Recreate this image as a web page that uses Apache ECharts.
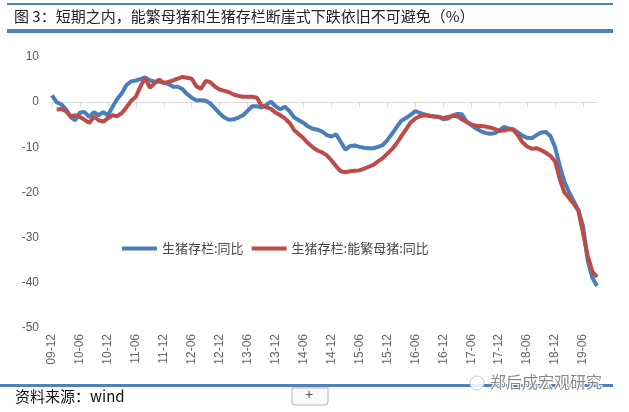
<!DOCTYPE html>
<html>
<head>
<meta charset="utf-8">
<script src="https://cdn.jsdelivr.net/npm/echarts@6/dist/echarts.min.js"></script>
<style>
	html, body { margin: 0; padding: 0; background: #fff; }
	#chart { width: 629px; height: 412px; }
</style>
</head>
<body>
<div id="chart"></div>
<script>
// monthly, 2009-12 .. 2019-09
const startYear = 2009;
const startMonth = 12;
const monthCount = 118;

const hogYoY = [
	1.5, 0.0, -0.5, -1.6, -3.3, -4.0, -2.3, -2.2, -3.3, -2.2,
	-2.9, -2.2, -2.9, -1.0, 0.7, 2.0, 3.8, 4.6, 4.8, 5.1,
	5.5, 4.8, 4.6, 4.5, 4.4, 4.0, 3.4, 3.4, 2.9, 1.8,
	1.0, 0.4, 0.4, 0.3, -0.3, -1.4, -2.5, -3.4, -3.9, -3.8,
	-3.4, -2.9, -1.9, -0.9, -0.9, -1.2, -0.6, 0.1, -0.9, -1.6,
	-1.0, -2.0, -3.4, -4.0, -4.6, -5.4, -5.9, -6.1, -6.5, -7.3,
	-7.6, -7.1, -8.8, -10.5, -9.7, -9.6, -9.9, -10.1, -10.2, -10.2,
	-9.9, -9.5, -8.4, -7.0, -5.5, -4.1, -3.5, -2.8, -2.0, -2.4,
	-2.7, -3.0, -3.1, -3.2, -3.8, -3.6, -3.0, -2.6, -2.7, -4.3,
	-5.1, -5.8, -6.4, -6.8, -7.0, -6.9, -6.3, -5.5, -5.8, -6.0,
	-6.7, -7.4, -7.9, -8.0, -7.3, -6.7, -6.6, -7.5, -10.0, -14.1,
	-17.6, -19.9, -21.9, -23.9, -27.5, -35.0, -38.9, -40.7
];

const sowYoY = [
	null, -1.6, -1.5, -2.0, -3.1, -2.9, -3.3, -3.9, -4.6, -3.2,
	-4.0, -4.3, -3.6, -2.9, -3.1, -2.4, -1.1, 0.3, 1.2, 3.5,
	5.4, 3.2, 4.2, 5.0, 4.2, 4.5, 4.8, 5.2, 5.6, 5.4,
	5.2, 3.5, 3.0, 4.7, 4.4, 3.4, 2.8, 2.5, 2.2, 1.7,
	1.4, 1.2, 1.2, 1.2, 1.0, -0.8, -1.1, -1.5, -2.3, -2.9,
	-3.6, -4.6, -6.2, -7.1, -8.0, -9.1, -10.0, -10.7, -11.1, -11.8,
	-12.9, -14.2, -15.3, -15.5, -15.3, -15.2, -15.1, -14.7, -14.3, -13.9,
	-13.1, -12.4, -11.4, -10.4, -9.1, -7.5, -6.0, -4.5, -3.6, -3.1,
	-2.9, -3.0, -3.2, -3.3, -3.5, -3.3, -3.0, -3.1, -3.8, -4.4,
	-4.9, -5.2, -5.3, -5.4, -5.6, -5.9, -6.4, -6.3, -6.0, -6.1,
	-7.3, -8.9, -9.8, -10.3, -10.2, -10.6, -11.2, -11.9, -13.1, -17.0,
	-20.0, -21.2, -22.5, -24.0, -29.0, -34.0, -37.5, -38.7
];

const seriesNames = [ '生猪存栏:同比', '生猪存栏:能繁母猪:同比' ];
const seriesColors = [ '#4a7ebb', '#be4b48' ];
const titleText = '图 3：短期之内，能繁母猪和生猪存栏断崖式下跌依旧不可避免（%）';
const sourceText = '资料来源：wind';
const watermarkText = '郑后成宏观研究';

// build the "yy-mm" category labels
const months = [];
for ( let i = 0; i < monthCount; i++ ) {
	const m = ( startMonth - 1 + i ) % 12 + 1;
	const y = startYear + Math.floor( ( startMonth - 1 + i ) / 12 );
	months.push( String( y % 100 ).padStart( 2, '0' ) + '-' + String( m ).padStart( 2, '0' ) );
}

const barColor = '#4f81bd';
const labelFont = '"Liberation Sans", Arial, sans-serif';
const cjkFont = '"Noto Sans CJK SC", "Noto Sans", sans-serif';

const chart = echarts.init( document.getElementById( 'chart' ), null, { renderer: 'canvas' } );

chart.setOption( {
	animation: false,
	backgroundColor: '#ffffff',
	grid: { left: 52, right: 32, top: 57, bottom: 84 },
	legend: {
		left: 117,
		top: 237,
		icon: 'rect',
		itemWidth: 35,
		itemHeight: 4,
		itemGap: 8,
		textStyle: { color: '#4a4a4a', fontSize: 13, fontFamily: cjkFont },
		data: seriesNames
	},
	xAxis: {
		type: 'category',
		data: months,
		boundaryGap: false,
		axisLine: { lineStyle: { color: '#d9d9d9', width: 1 } },
		axisTick: { interval: 5, length: 5, lineStyle: { color: '#d9d9d9' } },
		axisLabel: {
			interval: 5,
			rotate: 90,
			margin: 6,
			color: '#666666',
			fontSize: 12,
			fontFamily: labelFont
		}
	},
	yAxis: {
		type: 'value',
		min: -50,
		max: 10,
		interval: 10,
		axisLine: { show: false },
		axisTick: { show: false },
		splitLine: { show: false },
		axisLabel: { margin: 13, color: '#595959', fontSize: 12, fontFamily: labelFont }
	},
	series: [
		{
			name: seriesNames[ 0 ],
			type: 'line',
			data: hogYoY,
			showSymbol: false,
			color: seriesColors[ 0 ],
			lineStyle: { width: 4, color: seriesColors[ 0 ] }
		},
		{
			name: seriesNames[ 1 ],
			type: 'line',
			data: sowYoY,
			showSymbol: false,
			color: seriesColors[ 1 ],
			lineStyle: { width: 4, color: seriesColors[ 1 ] }
		}
	],
	graphic: [
		// header bars and title
		{ type: 'rect', shape: { x: 7, y: 3, width: 606, height: 2 }, style: { fill: barColor } },
		{ type: 'rect', shape: { x: 7, y: 29, width: 606, height: 4 }, style: { fill: barColor } },
		{
			type: 'text', left: 14, top: 9,
			style: { text: titleText, fill: '#222', font: '15px ' + cjkFont }
		},
		// footer
		{ type: 'rect', shape: { x: 0, y: 384, width: 613, height: 3 }, style: { fill: barColor } },
		{
			type: 'text', left: 15, top: 389,
			style: { text: sourceText, fill: '#111', font: '15px ' + cjkFont }
		},
		{
			type: 'rect',
			shape: { x: 292, y: 388, width: 36, height: 17, r: [ 0, 0, 3, 3 ] },
			style: { fill: '#fafafa', stroke: '#b0b0b0', lineWidth: 1 }
		},
		{
			type: 'text', left: 305, top: 388,
			style: { text: '+', fill: '#555', font: '14px ' + labelFont }
		},
		// watermark
		{
			type: 'circle', shape: { cx: 477, cy: 383, r: 7 },
			style: { fill: 'rgba(255,255,255,0.85)', stroke: '#c8c8c8', lineWidth: 1 }
		},
		{
			type: 'text', left: 489, top: 373,
			style: {
				text: watermarkText,
				fill: '#8a8a8a',
				stroke: '#ffffff',
				lineWidth: 2,
				font: '16px ' + cjkFont
			}
		}
	]
} );
</script>
</body>
</html>
